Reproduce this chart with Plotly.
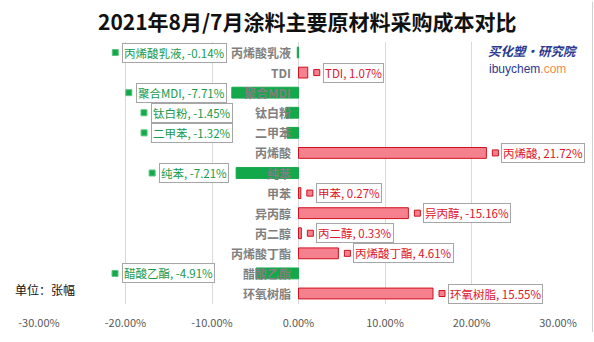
import plotly.graph_objects as go

# ---- data ----
categories = ["丙烯酸乳液", "TDI", "聚合MDI", "钛白粉", "二甲苯", "丙烯酸", "纯苯",
              "甲苯", "异丙醇", "丙二醇", "丙烯酸丁酯", "醋酸乙酯", "环氧树脂"]
bar_values = [-0.14, 1.07, -7.71, -1.45, -1.32, 21.72, -7.21,
              0.27, 12.70, 0.33, 4.61, -4.91, 15.55]
label_values = [-0.14, 1.07, -7.71, -1.45, -1.32, 21.72, -7.21,
                0.27, -15.16, 0.33, 4.61, -4.91, 15.55]
x_ticks = [-30, -20, -10, 0, 10, 20, 30]
x_tick_labels = ["-30.00%", "-20.00%", "-10.00%", "0.00%", "10.00%", "20.00%", "30.00%"]

# ---- style / layout ----
W, H = 594, 342
ML, MR, MT, MB = 39, 36, 42, 29
FONT = "Noto Sans CJK SC"
POS_FILL, POS_LINE, POS_TEXT = "#f5808e", "#d0101e", "#e0142a"
NEG_FILL, NEG_TEXT = "#13a84a", "#169a4e"
# label box left-edge offset (px) from bar end for negative bars (manual placement in source)
neg_label_shift = {"丙烯酸乳液": -175, "聚合MDI": -96, "钛白粉": -135, "二甲苯": -136,
                   "纯苯": -77, "醋酸乙酯": -134}


def px_x(px):
    return (px - ML) / (W - ML - MR)


def px_y(py):
    return (H - MB - py) / (H - MT - MB)


fig = go.Figure()
colors = [POS_FILL if v >= 0 else NEG_FILL for v in bar_values]
lines = [POS_LINE if v >= 0 else NEG_FILL for v in bar_values]
fig.add_trace(go.Bar(
    x=bar_values, y=categories, orientation="h",
    marker=dict(color=colors, line=dict(color=lines, width=1)),
    width=0.54, hoverinfo="skip", showlegend=False,
))

annotations = []
shapes = []
for i, (cat, v, lv) in enumerate(zip(categories, bar_values, label_values)):
    annotations.append(dict(
        x=0, y=cat, xref="x", yref="y", text=f"<b>{cat}</b>", showarrow=False,
        xanchor="right", xshift=-6, font=dict(family=FONT, size=12, color="#7f7f7f"),
    ))
    txt = f"{cat}, {lv:.2f}%"
    if v >= 0:
        tcol, sfill, sline = POS_TEXT, POS_FILL, POS_LINE
        box_shift = 15
        sq0, sq1 = 6, 12
    else:
        tcol, sfill, sline = NEG_TEXT, NEG_FILL, "#5cc47f"
        box_shift = neg_label_shift[cat]
        sq0, sq1 = box_shift - 10, box_shift - 4
    annotations.append(dict(
        x=v, y=cat, xref="x", yref="y", text=txt, showarrow=False,
        xanchor="left", xshift=box_shift,
        font=dict(family=FONT, size=11.5, color=tcol),
        bgcolor="white", bordercolor="#a6a6a6", borderwidth=1, borderpad=1,
    ))
    shapes.append(dict(
        type="rect", xref="x", yref="y", xsizemode="pixel", ysizemode="pixel",
        xanchor=v, yanchor=i, x0=sq0, x1=sq1, y0=-3, y1=3,
        fillcolor=sfill, line=dict(color=sline, width=1),
    ))

# title
annotations.append(dict(
    x=px_x(307), y=px_y(20), xref="paper", yref="paper", xanchor="center", yanchor="middle",
    text="<b>2021年8月/7月涂料主要原材料采购成本对比</b>", showarrow=False,
    font=dict(family=FONT, size=21, color="#111111"),
))
# unit
annotations.append(dict(
    x=px_x(13), y=px_y(298), xref="paper", yref="paper", xanchor="left", yanchor="middle",
    text="单位：张幅", showarrow=False, font=dict(family=FONT, size=12, color="#111111"),
))
# watermark
annotations.append(dict(
    x=px_x(486), y=px_y(51), xref="paper", yref="paper", xanchor="left", yanchor="middle",
    text="<b><i>买化塑·研究院</i></b>", showarrow=False,
    font=dict(family=FONT, size=12.5, color="#2b3990"),
))
annotations.append(dict(
    x=px_x(487), y=px_y(70), xref="paper", yref="paper", xanchor="left", yanchor="middle",
    text="ibuychem<span style='color:#f08a4b'>.com</span>", showarrow=False,
    font=dict(family="Liberation Sans", size=12, color="#2b3990"),
))
# right edge border line
shapes.append(dict(type="line", xref="paper", yref="paper", x0=px_x(592.5), x1=px_x(592.5),
                   y0=px_y(H), y1=px_y(0), line=dict(color="#d0d0d0", width=1)))

fig.update_layout(
    width=W, height=H,
    margin=dict(l=ML, r=MR, t=MT, b=MB),
    paper_bgcolor="white", plot_bgcolor="white",
    annotations=annotations, shapes=shapes,
    xaxis=dict(
        range=[-30, 30], tickvals=x_ticks, ticktext=x_tick_labels,
        showgrid=True, gridcolor="#d9d9d9", gridwidth=1,
        zeroline=True, zerolinecolor="#d9d9d9", zerolinewidth=1,
        showline=False, ticks="outside", ticklen=9, tickcolor="rgba(0,0,0,0)",
        tickfont=dict(family=FONT, size=11, color="#595959"),
    ),
    yaxis=dict(
        autorange="reversed", showticklabels=False, showgrid=False,
        zeroline=False, showline=False, ticks="",
    ),
    font=dict(family=FONT),
)

fig.write_html("out.html")
